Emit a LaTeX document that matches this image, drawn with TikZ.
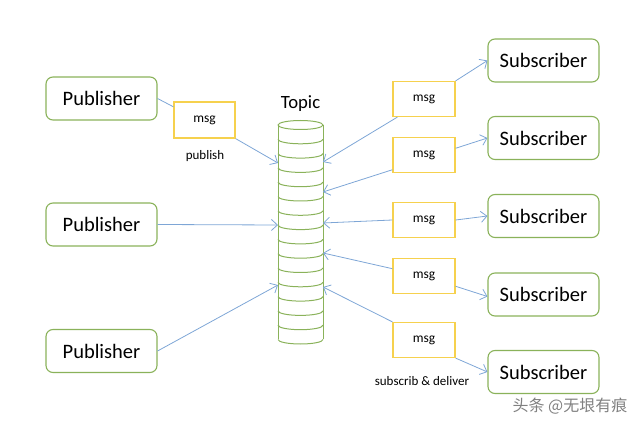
\documentclass[tikz,border=0pt]{standalone}
\usepackage{fontspec}
\setmainfont{Carlito}
\newfontfamily\cjk{Noto Sans CJK SC}
\usetikzlibrary{arrows.meta}
\definecolor{grn}{HTML}{8AB25A}
\definecolor{ylw}{HTML}{F6D14E}
\definecolor{blu}{HTML}{7EA6D6}
\begin{document}
\begin{tikzpicture}[x=1pt,y=-1pt,
  actor/.style={draw=grn,line width=1.1pt,rounded corners=7pt,minimum width=111pt,minimum height=43pt,inner sep=0pt,font=\fontsize{20.5}{22}\selectfont},
  msgbox/.style={draw=ylw,line width=1.2pt,minimum width=62pt,minimum height=35pt,inner sep=0pt,font=\fontsize{13.5}{15}\selectfont},
  conn/.style={draw=blu,line width=0.8pt},
  arr/.style={conn,-{Straight Barb[length=6pt,width=11pt,line width=0.8pt]}},
  lbl/.style={inner sep=0pt,font=\fontsize{13}{15}\selectfont}]
\useasboundingbox (0,0) rectangle (640,430);
% publishers
\node[actor] (p1) at (101.5,98.5) {Publisher};
\node[actor] (p2) at (101.5,224.5) {Publisher};
\node[actor] (p3) at (101.5,351) {Publisher};
\node[msgbox,minimum height=36pt,minimum width=61pt] (m0) at (204.5,120) {msg};
\node[lbl] (pub) at (205,156) {publish};
% topic cylinder
\node[inner sep=0pt,font=\fontsize{18.7}{20}\selectfont] (topic) at (300.5,104) {Topic};
\begin{scope}[draw=grn,line width=1pt]
  \draw (300.5,125) ellipse [x radius=22.5pt,y radius=4.5pt];
  \draw (278,125) -- (278,339.5);
  \draw (323,125) -- (323,339.5);
  \foreach \k in {1,...,15}{
    \draw (278,125+14.3*\k) arc[start angle=180,end angle=360,x radius=22.5pt,y radius=4.5pt];
  }
\end{scope}
\coordinate (tl1) at (278,163);
\coordinate (tl2) at (278,225);
\coordinate (tl3) at (278,285);
\coordinate (tr1) at (323,162);
\coordinate (tr2) at (323,192);
\coordinate (tr3) at (323,223);
\coordinate (tr4) at (323,253);
\coordinate (tr5) at (323,287);
% right msgs
\node[msgbox] (m1) at (424,99) {msg};
\node[msgbox] (m2) at (424,155) {msg};
\node[msgbox] (m3) at (424,220) {msg};
\node[msgbox] (m4) at (424,276) {msg};
\node[msgbox] (m5) at (424,340) {msg};
% subscribers
\node[actor] (s1) at (543.5,60.5) {Subscriber};
\node[actor] (s2) at (543.5,138) {Subscriber};
\node[actor] (s3) at (543.5,216) {Subscriber};
\node[actor] (s4) at (543.5,294.5) {Subscriber};
\node[actor] (s5) at (543.5,372) {Subscriber};
\node[lbl] (sd) at (422,381) {subscrib \& deliver};
% connectors left
\draw[conn] (p1.east) -- (m0.157);
\draw[arr] (m0.south east) -- (tl1);
\draw[arr] (p2.east) -- (tl2);
\draw[arr] (p3.east) -- (tl3);
% connectors right
\draw[arr] ([xshift=5pt]m1.south west) -- (tr1);
\draw[arr] (m2.205) -- (tr2);
\draw[arr] (m3.west) -- (tr3);
\draw[arr] (m4.167) -- (tr4);
\draw[arr] (m5.north west) -- (tr5);
\draw[arr] (m1.north east) -- (s1.west);
\draw[arr] (m2.12) -- (s2.west);
\draw[arr] (m3.east) -- (s3.west);
\draw[arr] (m4.-18) -- ([yshift=-2pt]s4.west);
\draw[arr] (m5.south east) -- (s5.west);
% watermark
\node[inner sep=0pt,text=black!50,font=\cjk\fontsize{16}{18}\selectfont] (wm) at (570,406) {头条 @无垠有痕};
\end{tikzpicture}
\end{document}
